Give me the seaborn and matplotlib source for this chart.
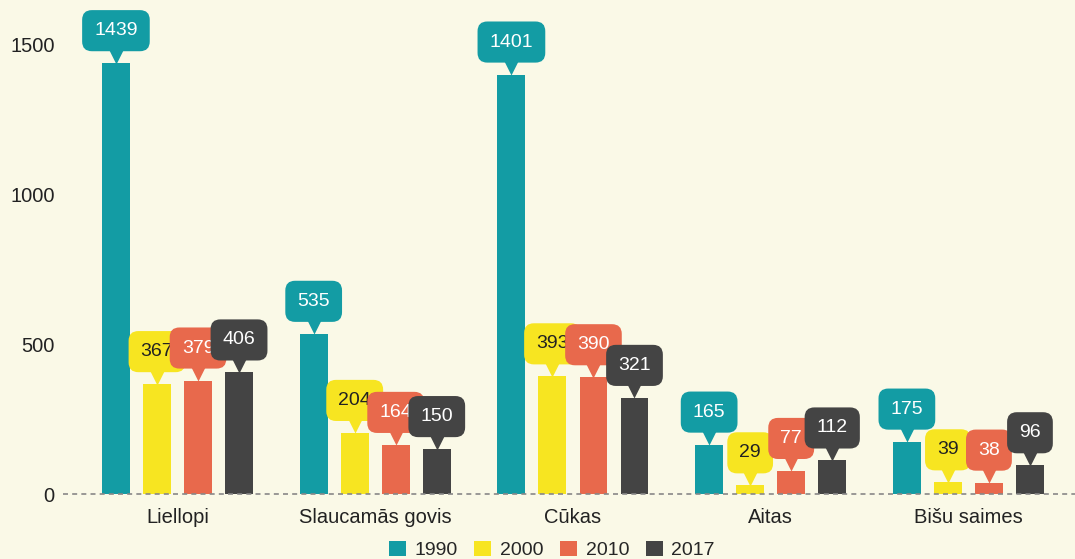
import numpy as np
import pandas as pd
import matplotlib
matplotlib.use("Agg")
import matplotlib.pyplot as plt
import seaborn as sns
from matplotlib.transforms import offset_copy

# dati no attēla
categories = ["Liellopi", "Slaucamās govis", "Cūkas", "Aitas", "Bišu saimes"]
years = ["1990", "2000", "2010", "2017"]
v1990 = [1439, 535, 1401, 165, 175]
v2000 = [367, 204, 393, 29, 39]
v2010 = [379, 164, 390, 77, 38]
v2017 = [406, 150, 321, 112, 96]
yticks = [0, 500, 1000, 1500]

colors = ["#139ca4", "#f7e521", "#e8694c", "#444444"]
label_colors = ["white", "#222222", "white", "white"]
BG = "#faf9e7"

df = pd.DataFrame({
    "kategorija": categories * len(years),
    "gads": np.repeat(years, len(categories)),
    "vertiba": v1990 + v2000 + v2010 + v2017,
})

sns.set_style("white")
plt.rcParams["font.family"] = ["Liberation Sans", "DejaVu Sans"]

fig = plt.figure(figsize=(10.75, 5.59), dpi=100, facecolor=BG)
ax = fig.add_axes([63 / 1075, 65 / 559, 1 - 63 / 1075, 494 / 559])
ax.set_facecolor(BG)

sns.barplot(
    data=df, x="kategorija", y="vertiba", hue="gads",
    order=categories, hue_order=years, palette=colors,
    width=0.83, gap=0.32, errorbar=None, linewidth=0, saturation=1, ax=ax,
)

# izsaukuma "burbuļi" virs stabiņiem
tri_trans = offset_copy(ax.transData, fig=fig, x=0, y=7.5, units="dots")
for i, cont in enumerate(ax.containers):
    for bar in cont:
        x = bar.get_x() + bar.get_width() / 2
        h = bar.get_height()
        ax.plot(x, h, marker="v", ms=11, color=colors[i], mec="none",
                transform=tri_trans, clip_on=False, zorder=10 + i)
        ax.annotate(
            f"{h:.0f}", xy=(x, h), xytext=(0, 32.5), textcoords="offset pixels",
            ha="center", va="center", fontsize=14, color=label_colors[i],
            bbox=dict(boxstyle="round,pad=0.62,rounding_size=0.5",
                      fc=colors[i], ec="none"),
            zorder=10 + i, annotation_clip=False,
        )

ax.axhline(0, color="#888888", lw=1.2, ls=(0, (3, 2.5)), zorder=5, clip_on=False)

ax.set_xlim(-0.579, 4.539)
ax.set_ylim(0, 1650)
ax.set_yticks(yticks)
ax.set_xlabel("")
ax.set_ylabel("")
ax.tick_params(axis="both", length=0, labelsize=14.5, colors="#222222")
ax.tick_params(axis="x", pad=10)
ax.tick_params(axis="y", pad=6)
for s in ax.spines.values():
    s.set_visible(False)

sns.move_legend(
    ax, "center", bbox_to_anchor=(0.483, -0.113), ncol=4, frameon=False,
    title=None, fontsize=14, handlelength=0.87, handleheight=0.87,
    handletextpad=0.45, columnspacing=0.85, borderpad=0,
)

fig.savefig("out.png", dpi=100, facecolor=BG)
